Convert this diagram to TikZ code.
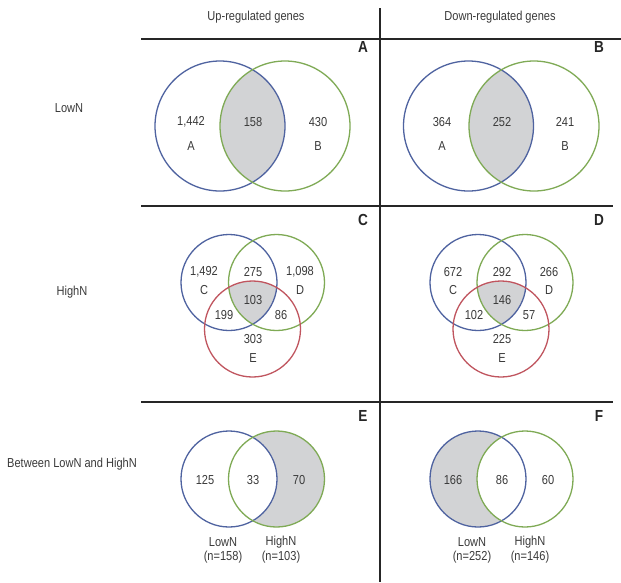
\documentclass[tikz,border=0pt]{standalone}
\usepackage{fontspec}
\setmainfont{Liberation Sans}[FakeStretch=0.85]
\definecolor{vblue}{HTML}{4F63A0}
\definecolor{vgreen}{HTML}{7FAA55}
\definecolor{vred}{HTML}{C0555F}
\definecolor{vgray}{HTML}{D2D3D5}
\definecolor{vtext}{HTML}{3A3A3A}
\begin{document}
\begin{tikzpicture}[x=1pt,y=-1pt,
  rule/.style={line width=2pt,draw=black!85},
  ring/.style={line width=1.3pt},
  num/.style={text=vtext,font=\fontsize{13}{15}\selectfont,inner sep=0pt},
  head/.style={text=vtext,font=\fontsize{13}{15}\selectfont,inner sep=0pt},
  tag/.style={text=black!85,font=\fontsize{16}{18}\selectfont\bfseries,inner sep=0pt}]
\useasboundingbox[fill=white] (0,0) rectangle (621,582);
% frame lines
\coordinate (vt) at (380,8);
\coordinate (vb) at (380,582);
\coordinate (h1l) at (141,39);
\coordinate (h1r) at (621,39);
\coordinate (h2l) at (141,206);
\coordinate (h2r) at (613,206);
\coordinate (h3l) at (141,402);
\coordinate (h3r) at (613,402);
\draw[rule] (vt) -- (vb);
\draw[rule] (h1l) -- (h1r);
\draw[rule] (h2l) -- (h2r);
\draw[rule] (h3l) -- (h3r);
% headers
\node[head] (hup) at (256,17) {Up-regulated genes};
\node[head] (hdown) at (500,17) {Down-regulated genes};
\node[head] (rlow) at (69,108) {LowN};
\node[head] (rhigh) at (72,292) {HighN};
\node[head] (rbetw) at (72,464) {Between LowN and HighN};
% panel letters
\node[tag] (tA) at (363,47) {A};
\node[tag] (tB) at (599,47) {B};
\node[tag] (tC) at (363,220) {C};
\node[tag] (tD) at (599,220) {D};
\node[tag] (tE) at (363,416) {E};
\node[tag] (tF) at (599,416) {F};
% ---------- Panel A
\coordinate (a1) at (220,126);
\coordinate (a2) at (285,126);
\begin{scope}\clip (a1) circle (65); \fill[vgray] (a2) circle (65);\end{scope}
\draw[ring,vblue] (a1) circle (65);
\draw[ring,vgreen] (a2) circle (65);
\node[num] (na1) at (191,122) {1,442};
\node[num] (la1) at (191,146) {A};
\node[num] (na12) at (253,122) {158};
\node[num] (na2) at (318,122) {430};
\node[num] (la2) at (318,146) {B};
% ---------- Panel B
\coordinate (b1) at (468.5,126);
\coordinate (b2) at (534,126);
\begin{scope}\clip (b1) circle (65); \fill[vgray] (b2) circle (65);\end{scope}
\draw[ring,vblue] (b1) circle (65);
\draw[ring,vgreen] (b2) circle (65);
\node[num] (nb1) at (442,122) {364};
\node[num] (lb1) at (442,146) {A};
\node[num] (nb12) at (502,122) {252};
\node[num] (nb2) at (565,122) {241};
\node[num] (lb2) at (565,146) {B};
% ---------- Panel C
\coordinate (c1) at (229,282.5);
\coordinate (c2) at (276.5,282.5);
\coordinate (c3) at (252.5,329);
\begin{scope}\clip (c1) circle (48); \clip (c2) circle (48); \fill[vgray] (c3) circle (48);\end{scope}
\draw[ring,vblue] (c1) circle (48);
\draw[ring,vgreen] (c2) circle (48);
\draw[ring,vred] (c3) circle (48);
\node[num] (nc1) at (204,272) {1,492};
\node[num] (lc1) at (204,290) {C};
\node[num] (nc12) at (253,272) {275};
\node[num] (nc2) at (300,272) {1,098};
\node[num] (lc2) at (300,290) {D};
\node[num] (nc123) at (253,300) {103};
\node[num] (nc13) at (224,315) {199};
\node[num] (nc23) at (281,315) {86};
\node[num] (nc3) at (253,339) {303};
\node[num] (lc3) at (253,358) {E};
% ---------- Panel D
\coordinate (d1) at (478,282.5);
\coordinate (d2) at (525,282.5);
\coordinate (d3) at (501,329);
\begin{scope}\clip (d1) circle (48); \clip (d2) circle (48); \fill[vgray] (d3) circle (48);\end{scope}
\draw[ring,vblue] (d1) circle (48);
\draw[ring,vgreen] (d2) circle (48);
\draw[ring,vred] (d3) circle (48);
\node[num] (nd1) at (453,272) {672};
\node[num] (ld1) at (453,290) {C};
\node[num] (nd12) at (502,272) {292};
\node[num] (nd2) at (549,272) {266};
\node[num] (ld2) at (549,290) {D};
\node[num] (nd123) at (502,300) {146};
\node[num] (nd13) at (474,315) {102};
\node[num] (nd23) at (529,315) {57};
\node[num] (nd3) at (502,339) {225};
\node[num] (ld3) at (502,358) {E};
% ---------- Panel E
\coordinate (e1) at (229,479);
\coordinate (e2) at (276.5,479);
\begin{scope}\clip (e2) circle (48); \fill[vgray,even odd rule] (e2) circle (48) (e1) circle (48);\end{scope}
\draw[ring,vblue] (e1) circle (48);
\draw[ring,vgreen] (e2) circle (48);
\node[num] (ne1) at (205,480) {125};
\node[num] (ne12) at (253,480) {33};
\node[num] (ne2) at (299,480) {70};
\node[num] (le1) at (223,542) {LowN};
\node[num] (me1) at (223,557) {(n=158)};
\node[num] (le2) at (281,542) {HighN};
\node[num] (me2) at (281,557) {(n=103)};
% ---------- Panel F
\coordinate (f1) at (478,479);
\coordinate (f2) at (525,479);
\begin{scope}\clip (f1) circle (48); \fill[vgray,even odd rule] (f1) circle (48) (f2) circle (48);\end{scope}
\draw[ring,vblue] (f1) circle (48);
\draw[ring,vgreen] (f2) circle (48);
\node[num] (nf1) at (453,480) {166};
\node[num] (nf12) at (502,480) {86};
\node[num] (nf2) at (548,480) {60};
\node[num] (lf1) at (472,542) {LowN};
\node[num] (mf1) at (472,557) {(n=252)};
\node[num] (lf2) at (530,542) {HighN};
\node[num] (mf2) at (530,557) {(n=146)};
\end{tikzpicture}
\end{document}
